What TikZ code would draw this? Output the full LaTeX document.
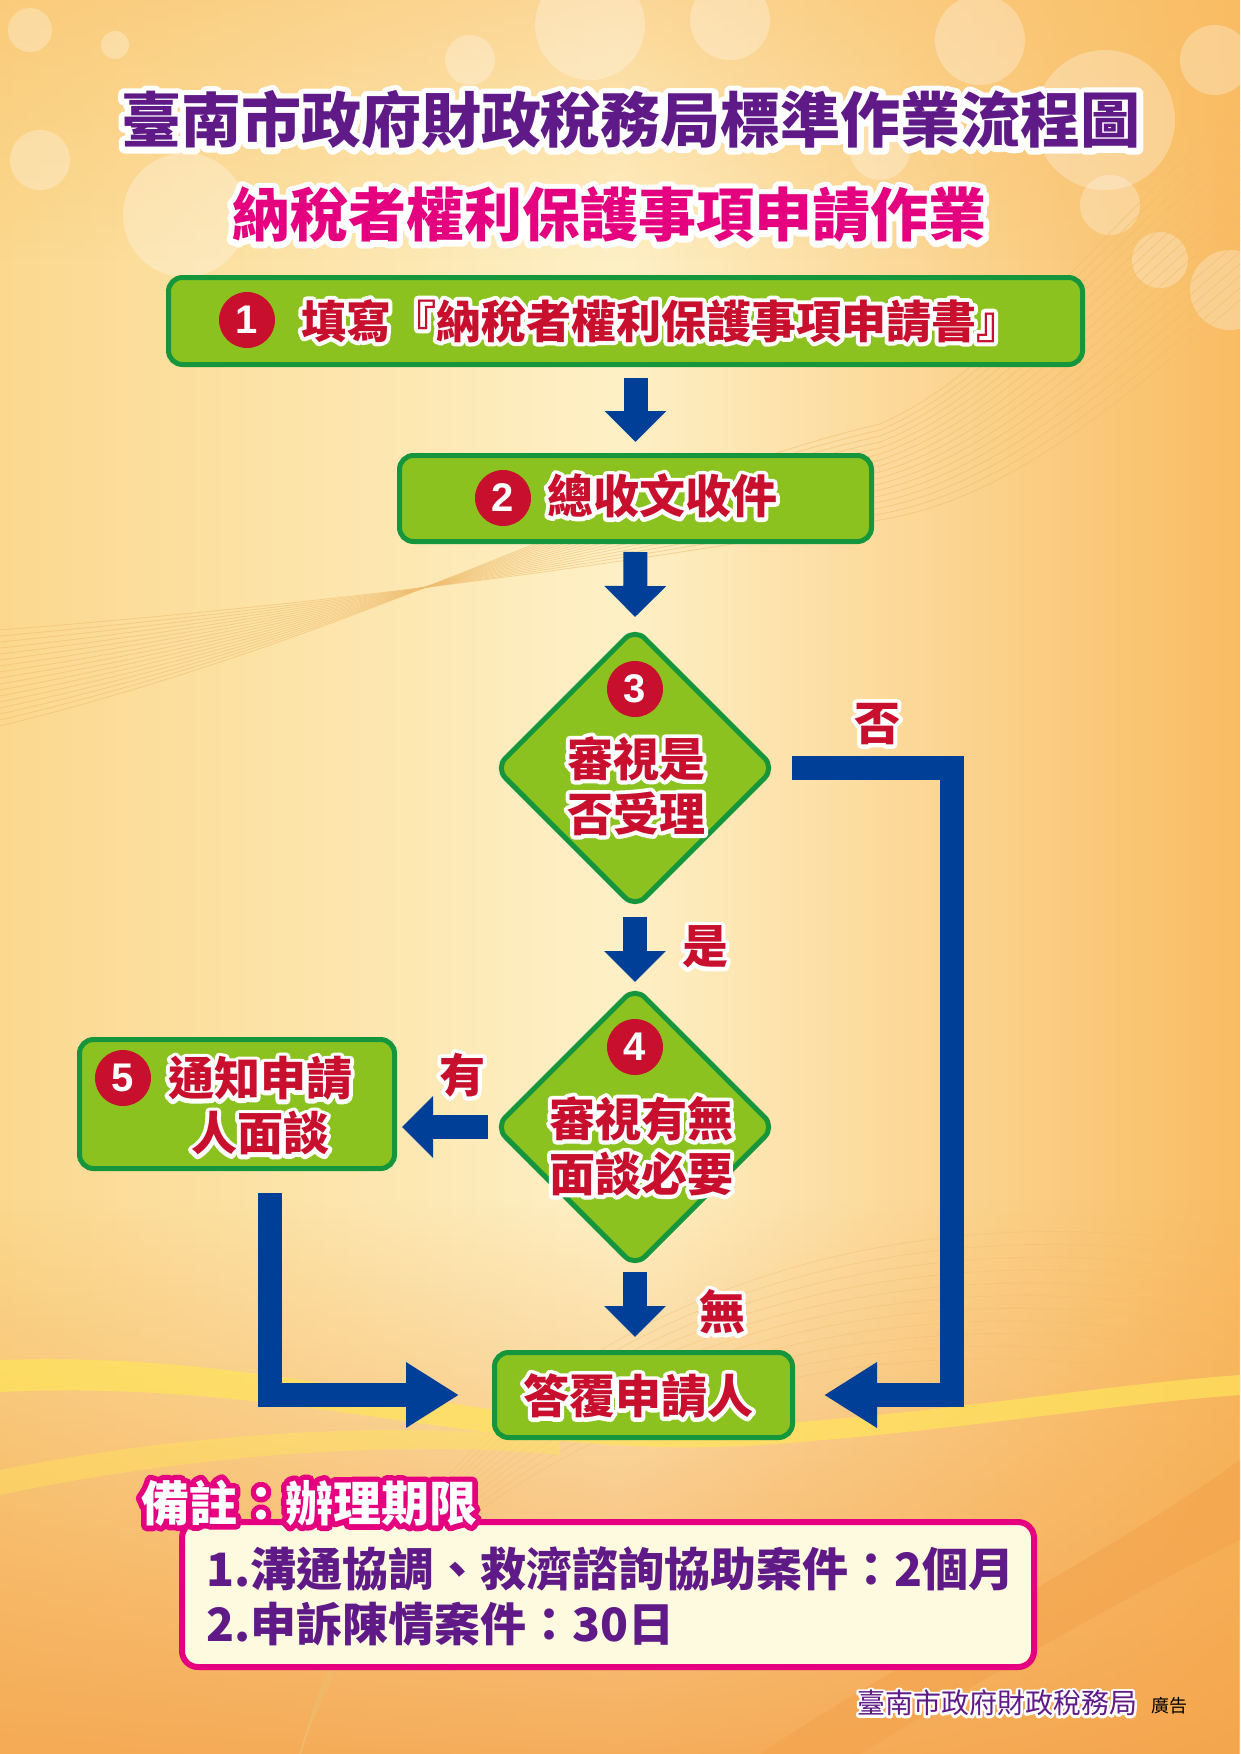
\documentclass[tikz,border=0pt]{standalone}
\usepackage{fontspec}
\setmainfont{Liberation Sans}
\newfontfamily\cjk{Noto Sans CJK TC}
\usetikzlibrary{shapes.geometric,arrows.meta,fadings,calc}

\definecolor{gfill}{HTML}{8CC21F}
\definecolor{gline}{HTML}{15953C}
\definecolor{tred}{HTML}{C8102E}
\definecolor{ablue}{HTML}{003F98}
\definecolor{tpurple}{HTML}{5F1A87}
\definecolor{tmag}{HTML}{E4007F}
\definecolor{ncream}{HTML}{FEFADF}
\definecolor{bgL}{HTML}{FBD88E}
\definecolor{bgM}{HTML}{FEF0C6}
\definecolor{bgR}{HTML}{F9BC62}
\definecolor{bgB}{HTML}{F4A24A}
\definecolor{wavec}{HTML}{EFBE70}
\definecolor{streak}{HTML}{FFE45A}

% outlined text: stroke copy (colour #1, width #2) under the filled text
\newcommand\outl[3]{\leavevmode\rlap{\special{pdf:literal direct #1 RG 1 Tr #2 w 1 j 1 J}#3\special{pdf:literal direct 0 Tr}}#3}

\tikzset{
  gbox/.style={draw=gline, line width=5pt, fill=gfill, rounded corners=14pt, inner sep=0pt},
  gdia/.style={diamond, aspect=1, draw=gline, line width=5pt, fill=gfill, rounded corners=14pt, inner sep=0pt, minimum size=281pt},
  numc/.style={circle, fill=tred, inner sep=0pt, minimum size=56pt, text=white, font=\fontsize{40}{40}\selectfont\bfseries},
  rtxt/.style={text=tred, font=\cjk\bfseries\fontsize{46}{55}\selectfont, align=center, inner sep=0pt},
  barrow/.style={draw=ablue, line width=24pt, -{Triangle[width=60pt,length=31pt]}},
  larrow/.style={draw=ablue, line width=24pt, -{Triangle[width=62pt,length=53pt]}},
  bokeh/.style={fill=white, opacity=0.28},
}

\begin{document}
\begin{tikzpicture}[x=1pt,y=-1pt]
\useasboundingbox (0,0) rectangle (1240,1754);
% ---------- background ----------
\shade[left color=bgL, right color=bgR, middle color=bgM] (0,0) rectangle (1240,1754);
\fill[bgR, path fading=south, opacity=0.45] (0,0) rectangle (1240,260);
\fill[bgB, path fading=north, opacity=0.85] (0,1200) rectangle (1240,1754);
% bokeh
\foreach \cx/\cy/\r in {30/30/22, 115/45/14, 185/215/62, 40/160/30, 590/25/55, 730/20/40, 1105/120/70, 1110/205/30, 1160/260/28, 980/40/45, 1215/60/35, 1230/290/40, 880/150/30, 470/60/25, 300/120/18}
  \fill[bokeh] (\cx,\cy) circle[radius=\r];
% fine wave lines
\foreach \k in {0,...,16}
  \draw[wavec, line width=0.9pt, opacity=0.55] (0,630+\k*6) .. controls (380,600+\k*2) and (640,560-\k*5) .. (880,520-\k*6) .. controls (1000,500-\k*8) and (1100,420-\k*12) .. (1240,300-\k*12);
\foreach \k in {0,...,10}
  \draw[wavec, line width=0.8pt, opacity=0.4] (300,1754) .. controls (420,1300+\k*10) and (900,1180+\k*12) .. (1240,1250+\k*14);
% streaks
\fill[streak, opacity=0.7] (0,1360) .. controls (300,1350) and (500,1440) .. (760,1425) .. controls (950,1412) and (1100,1385) .. (1240,1375)
  -- (1240,1395) .. controls (1100,1405) and (950,1432) .. (760,1445) .. controls (500,1462) and (300,1378) .. (0,1392) -- cycle;
\fill[streak, opacity=0.45] (0,1470) .. controls (200,1430) and (420,1420) .. (560,1440) -- (560,1455) .. controls (420,1440) and (200,1452) .. (0,1495) -- cycle;
\fill[bgB, opacity=0.5] (1240,1460) .. controls (1100,1560) and (900,1660) .. (760,1754) -- (860,1754) .. controls (980,1680) and (1120,1600) .. (1240,1540) -- cycle;

% ---------- titles ----------
\node[text=tpurple, font=\cjk\bfseries\fontsize{60}{60}\selectfont, inner sep=0pt] (title1) at (631,120)
  {\outl{1 1 1}{12}{臺南市政府財政稅務局標準作業流程圖}};
\node[text=tmag, font=\cjk\bfseries\fontsize{58}{58}\selectfont, inner sep=0pt] (title2) at (609,215)
  {\outl{1 1 1}{12}{納稅者權利保護事項申請作業}};

% ---------- boxes ----------
\node[gbox, minimum width=914pt, minimum height=87pt] (box1) at (625.5,321) {};
\node[numc] (n1) at (247,320) {1};
\node[rtxt, font=\cjk\bfseries\fontsize{45}{54}\selectfont] (t1) at (661,321) {\outl{1 1 1}{8}{填寫『納稅者權利保護事項申請書』}};

\node[gbox, minimum width=472pt, minimum height=86pt] (box2) at (635.5,498.5) {};
\node[numc] (n2) at (503,498) {2};
\node[rtxt] (t2) at (662,496) {\outl{1 1 1}{8}{總收文收件}};

\node[gdia] (d3) at (635,768) {};
\node[numc] (n3) at (635,689) {3};
\node[rtxt] (t3) at (636,786) {\outl{1 1 1}{8}{審視是}\\\outl{1 1 1}{8}{否受理}};

\node[gdia] (d4) at (635,1127) {};
\node[numc] (n4) at (635,1047) {4};
\node[rtxt] (t4) at (641,1146) {\outl{1 1 1}{8}{審視有無}\\\outl{1 1 1}{8}{面談必要}};

\node[gbox, minimum width=315pt, minimum height=129pt] (box5) at (237,1104) {};
\node[numc] (n5) at (123,1078) {5};
\node[rtxt] (t5) at (260,1106) {\outl{1 1 1}{8}{通知申請}\\\outl{1 1 1}{8}{人面談}};

\node[gbox, minimum width=298pt, minimum height=85pt] (box6) at (643.5,1395) {};
\node[rtxt] (t6) at (638,1396) {\outl{1 1 1}{8}{答覆申請人}};

% ---------- labels ----------
\node[rtxt] (lno) at (877,724) {\outl{1 1 1}{8}{否}};
\node[rtxt] (lyes) at (705,947) {\outl{1 1 1}{8}{是}};
\node[rtxt] (lhave) at (462,1075) {\outl{1 1 1}{8}{有}};
\node[rtxt] (lnone) at (722,1312) {\outl{1 1 1}{8}{無}};

% ---------- connectors ----------
\draw[barrow, shorten <=11pt, shorten >=11pt] (box2.north |- box1.south) -- (box2.north);
\draw[barrow, shorten <=8pt, shorten >=8pt] (box2.south) -- (d3.north);
\draw[barrow, shorten <=6pt, shorten >=2pt] (d3.south) -- (d4.north);
\draw[barrow, shorten <=2pt, shorten >=13pt] (d4.south) -- (box6.north -| d4.south);
\draw[barrow, shorten <=4pt, shorten >=5pt] (d4.west) -- (d4.west -| box5.east);
\coordinate (cn) at (952,0);
\draw[larrow, shorten <=14pt, shorten >=29pt] (d3.east) -- (d3.east -| cn) |- (box6.east);
\coordinate (c5) at ($(box5.south)+(33,0)$);
\draw[larrow, shorten <=22pt, shorten >=33pt] (c5) |- (box6.west);

% ---------- notes ----------
\node[draw=tmag, line width=6pt, fill=ncream, rounded corners=16pt, minimum width=852pt, minimum height=145pt, inner sep=0pt] (notes) at (608,1594.5) {};
\node[anchor=west, text=tpurple, font=\cjk\bfseries\fontsize{46}{55}\selectfont, align=left, inner sep=0pt] (notetxt) at (206,1596)
  {1.溝通協調、救濟諮詢協助案件：2個月\\2.申訴陳情案件：30日};
\node[text=white, font=\cjk\bfseries\fontsize{48}{48}\selectfont, inner sep=0pt] (notelbl) at (309,1503)
  {\outl{0.894 0 0.498}{11}{備註：辦理期限}};

% ---------- footer ----------
\node[text=tpurple, font=\cjk\fontsize{28}{28}\selectfont, inner sep=0pt] (foot) at (997,1703) {\outl{1 1 1}{5}{臺南市政府財政稅務局}};
\node[font=\cjk\fontsize{18}{18}\selectfont, inner sep=0pt] (ad) at (1169,1706) {廣告};
\end{tikzpicture}
\end{document}
